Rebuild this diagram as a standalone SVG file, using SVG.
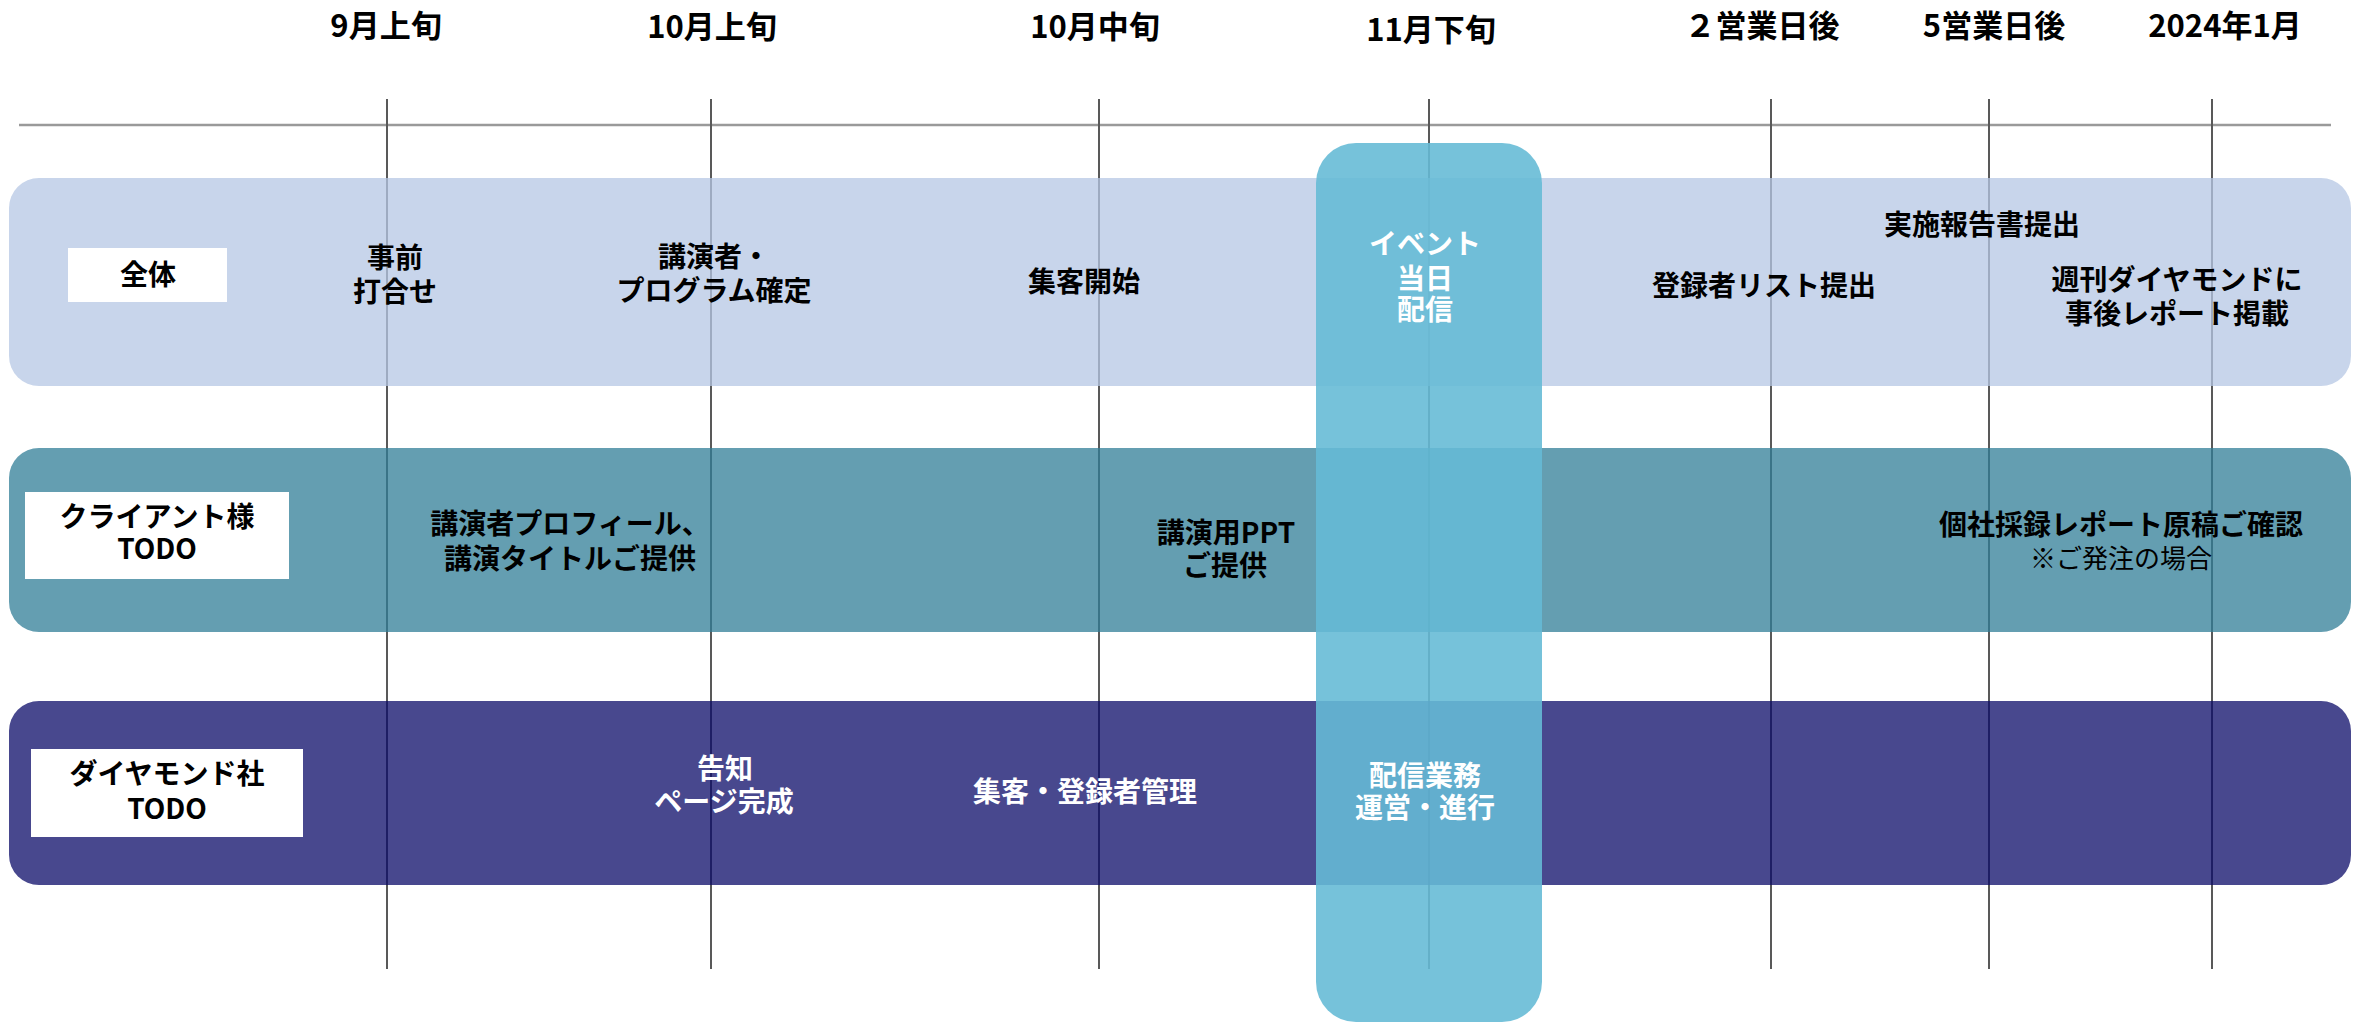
<svg xmlns="http://www.w3.org/2000/svg" width="2361" height="1023" viewBox="0 0 2361 1023">
<style>
text { font-family: "Noto Sans CJK JP", "Noto Sans", sans-serif; text-anchor: middle; dominant-baseline: central; }
tspan { dominant-baseline: central; }
.hd { font-size: 31px; font-weight: bold; fill: #000; }
.t { font-size: 28px; font-weight: bold; fill: #000; }
.w { font-size: 28px; font-weight: bold; fill: #fff; }
.n { font-size: 26px; font-weight: normal; fill: #000; }
.vl { stroke: #595959; stroke-width: 2; }
.axis { stroke: #9a9a9a; stroke-width: 2.5; }
.band { opacity: 0.75; }
.lbl { fill: #fff; }
</style>
<rect width="2361" height="1023" fill="#fff"/>

<g id="headers">
<text class="hd" x="386" y="23">9月上旬</text>
<text class="hd" x="712" y="24">10月上旬</text>
<text class="hd" x="1095" y="24">10月中旬</text>
<text class="hd" x="1431" y="27">11月下旬</text>
<text class="hd" x="1762" y="23">２営業日後</text>
<text class="hd" x="1994" y="23">5営業日後</text>
<text class="hd" x="2225" y="23">2024年1月</text>
</g>

<g id="connectors">
<line class="axis" x1="19" y1="125" x2="2331" y2="125"/>
<line class="vl" x1="387" y1="99" x2="387" y2="969"/>
<line class="vl" x1="711" y1="99" x2="711" y2="969"/>
<line class="vl" x1="1099" y1="99" x2="1099" y2="969"/>
<line class="vl" x1="1429" y1="99" x2="1429" y2="969"/>
<line class="vl" x1="1771" y1="99" x2="1771" y2="969"/>
<line class="vl" x1="1989" y1="99" x2="1989" y2="969"/>
<line class="vl" x1="2212" y1="99" x2="2212" y2="969"/>
</g>

<g id="band-all">
<rect class="band" x="9" y="178" width="2342" height="208" rx="30" fill="#B6C7E4"/>
<rect class="lbl" x="68" y="248" width="159" height="54"/>
<text class="t" x="148" y="273">全体</text>
<text class="t"><tspan x="395" y="256">事前</tspan><tspan x="395" y="290">打合せ</tspan></text>
<text class="t"><tspan x="714" y="255">講演者・</tspan><tspan x="714" y="289">プログラム確定</tspan></text>
<text class="t" x="1084" y="280">集客開始</text>
<text class="t" x="1764" y="284">登録者リスト提出</text>
<text class="t" x="1982" y="223">実施報告書提出</text>
<text class="t"><tspan x="2177" y="278">週刊ダイヤモンドに</tspan><tspan x="2177" y="312">事後レポート掲載</tspan></text>
</g>

<g id="band-client">
<rect class="band" x="9" y="448" width="2342" height="184" rx="30" fill="#307E97"/>
<rect class="lbl" x="25" y="492" width="264" height="87"/>
<text class="t"><tspan x="157" y="515">クライアント様</tspan><tspan x="157" y="547">TODO</tspan></text>
<text class="t"><tspan x="570" y="522">講演者プロフィール、</tspan><tspan x="570" y="557">講演タイトルご提供</tspan></text>
<text class="t"><tspan x="1226" y="531">講演用PPT</tspan><tspan x="1225" y="564">ご提供</tspan></text>
<text><tspan class="t" x="2121" y="523">個社採録レポート原稿ご確認</tspan><tspan class="n" x="2121" y="556">※ご発注の場合</tspan></text>
</g>

<g id="band-diamond">
<rect class="band" x="9" y="701" width="2342" height="184" rx="30" fill="#0B0B68"/>
<rect class="lbl" x="31" y="749" width="272" height="88"/>
<text class="t"><tspan x="167" y="772">ダイヤモンド社</tspan><tspan x="167" y="807">TODO</tspan></text>
<text class="w"><tspan x="725" y="767">告知</tspan><tspan x="724" y="800">ページ完成</tspan></text>
<text class="w" x="1085" y="790">集客・登録者管理</text>
</g>

<g id="event-day">
<rect x="1316" y="143" width="226" height="879" rx="40" fill="#65BAD5" opacity="0.89"/>
<text class="w"><tspan x="1425" y="242">イベント</tspan><tspan x="1425" y="277">当日</tspan><tspan x="1425" y="308">配信</tspan></text>
<text class="w"><tspan x="1425" y="774">配信業務</tspan><tspan x="1425" y="806">運営・進行</tspan></text>
</g>
</svg>
